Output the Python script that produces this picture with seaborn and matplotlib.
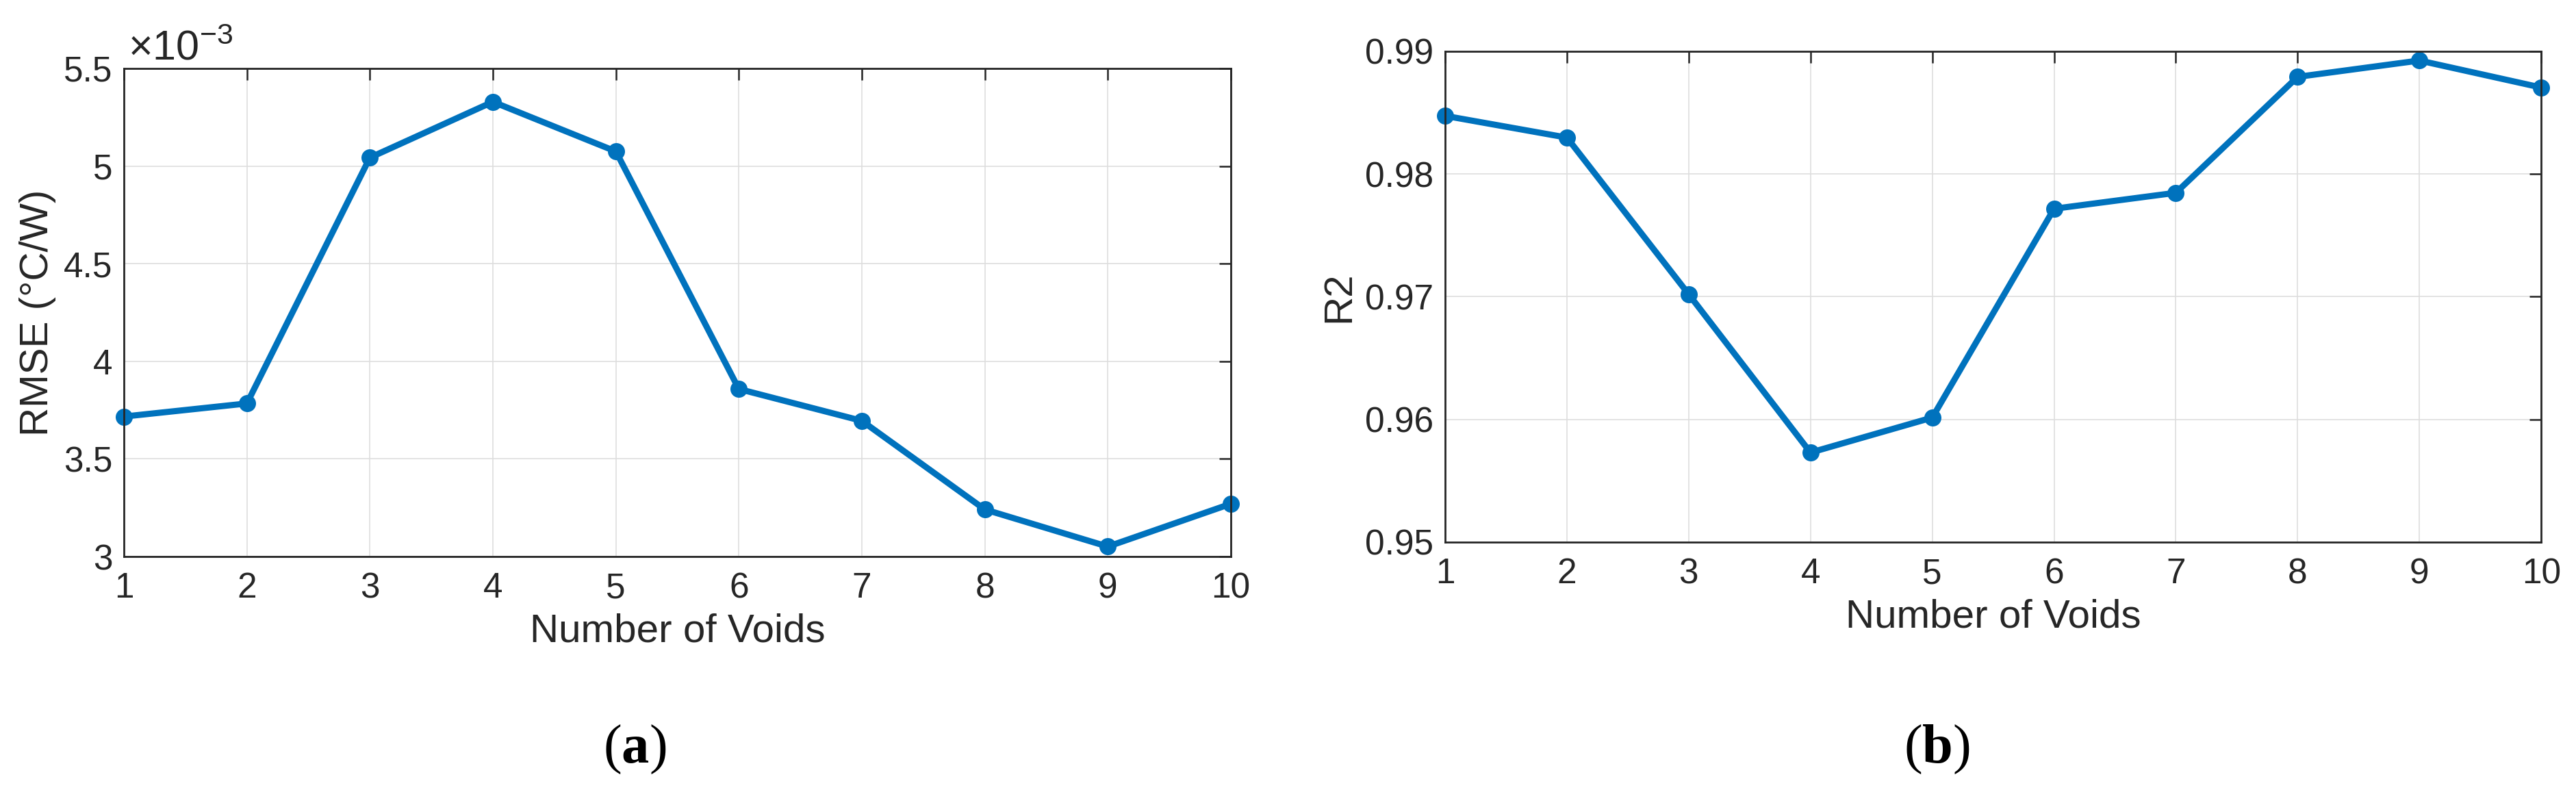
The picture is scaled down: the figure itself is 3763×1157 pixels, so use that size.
import matplotlib
matplotlib.use('Agg')
import matplotlib.pyplot as plt
import seaborn as sns
import pandas as pd
from matplotlib.ticker import FuncFormatter

# values
voids = [1, 2, 3, 4, 5, 6, 7, 8, 9, 10]
rmse = [3.717e-3, 3.784e-3, 5.043e-3, 5.329e-3, 5.075e-3,
        3.858e-3, 3.695e-3, 3.241e-3, 3.051e-3, 3.270e-3]
r2 = [0.98474, 0.98297, 0.97020, 0.95730, 0.96015,
      0.97717, 0.97847, 0.98792, 0.98925, 0.98705]

rmse_ticks = [3e-3, 3.5e-3, 4e-3, 4.5e-3, 5e-3, 5.5e-3]
r2_ticks = [0.95, 0.96, 0.97, 0.98, 0.99]

sns.set_style('white')
plt.rcParams['font.family'] = ['Liberation Sans', 'DejaVu Sans']
plt.rcParams['mathtext.fontset'] = 'custom'
plt.rcParams['mathtext.rm'] = 'Liberation Sans'
plt.rcParams['mathtext.bf'] = 'Liberation Serif:bold'

dark = '#262626'
blue = '#0072BD'

df = pd.DataFrame({'voids': voids, 'rmse': rmse, 'r2': r2})

fig = plt.figure(figsize=(37.63, 11.57), dpi=100)
ax1 = fig.add_axes([0.0481, 0.2973, 0.4297, 0.6163])
ax2 = fig.add_axes([0.5610, 0.3155, 0.4255, 0.6197])


def style_axis(ax):
    ax.set_xlim(1, 10)
    ax.set_xticks(voids)
    ax.grid(True, color='#dedede', linewidth=1.2)
    ax.set_axisbelow(True)
    for s in ax.spines.values():
        s.set_color(dark)
        s.set_linewidth(2.0)
    ax.tick_params(axis='both', direction='in', top=True, right=True,
                   length=12, width=1.8, color=dark, labelcolor=dark,
                   labelsize=37)
    ax.tick_params(axis='x', pad=16)
    ax.tick_params(axis='y', pad=12)


# (a) RMSE
sns.lineplot(data=df, x='voids', y='rmse', ax=ax1, color=blue, linewidth=6.5,
             marker='o', markersize=18, markeredgewidth=0, clip_on=False)
style_axis(ax1)
ax1.set_ylim(3e-3, 5.5e-3)
ax1.set_yticks(rmse_ticks)
ax1.yaxis.set_major_formatter(FuncFormatter(lambda v, p: f"{v * 1e3:g}"))
ax1.text(0.004, 1.018, r'$\times\mathrm{10}^{\mathrm{-3}}$', transform=ax1.transAxes,
         ha='left', va='baseline', fontsize=44, color=dark)
ax1.set_xlabel('Number of Voids', fontsize=42, color=dark, labelpad=8)
ax1.set_ylabel('RMSE (°C/W)', fontsize=42, color=dark, labelpad=8)

# (b) R2
sns.lineplot(data=df, x='voids', y='r2', ax=ax2, color=blue, linewidth=6.5,
             marker='o', markersize=18, markeredgewidth=0, clip_on=False)
style_axis(ax2)
ax2.set_ylim(0.95, 0.99)
ax2.set_yticks(r2_ticks)
ax2.yaxis.set_major_formatter(FuncFormatter(lambda v, p: f"{v:g}"))
ax2.set_xlabel('Number of Voids', fontsize=42, color=dark, labelpad=8)
ax2.set_ylabel('R2', fontsize=42, color=dark, labelpad=8)

fig.text(0.2463, 0.0536, r'($\mathbf{a}$)', fontsize=58, family='Liberation Serif',
         ha='center', va='center', color='black')
fig.text(0.7520, 0.0536, r'($\mathbf{b}$)', fontsize=58, family='Liberation Serif',
         ha='center', va='center', color='black')

fig.savefig('out.png', dpi=100, facecolor='white')
